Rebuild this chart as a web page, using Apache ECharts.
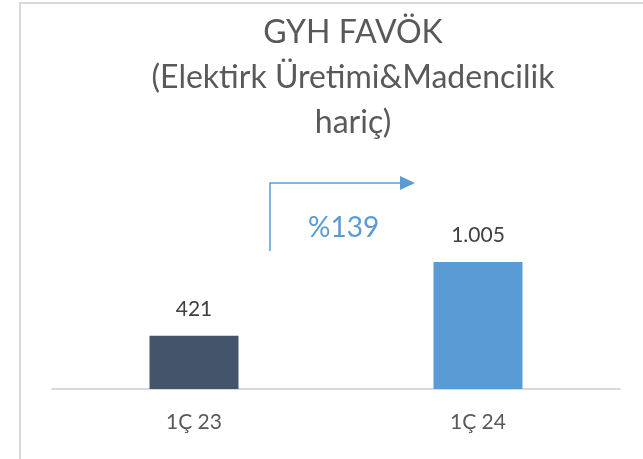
<!DOCTYPE html>
<html>
<head>
<meta charset="utf-8">
<script src="https://cdn.jsdelivr.net/npm/echarts@6/dist/echarts.min.js"></script>
<style>
  html, body { margin: 0; padding: 0; background: #fff; }
  #main { width: 643px; height: 459px; }
</style>
</head>
<body>
<div id="main"></div>
<script>
// kategoriler ve değerler
var categories = ['1Ç 23', '1Ç 24']
var values = [421, 1005]
var valueLabels = ['421', '1.005']
var barColors = ['#44546A', '#5B9BD5']
var growthText = '%139'

var myChart = echarts.init(document.getElementById('main'))
var font = 'Lato, "Open Sans", sans-serif'

myChart.setOption({
  animation: false,
  title: {
    text: 'GYH FAVÖK\n(Elektirk Üretimi&Madencilik\nhariç)',
    left: 348,
    top: 5,
    textAlign: 'center',
    textStyle: {
      fontFamily: font,
      fontSize: 32,
      fontWeight: 'normal',
      color: '#595959',
      lineHeight: 45
    }
  },
  grid: {
    left: 52,
    right: 23,
    top: 73,
    bottom: 70
  },
  xAxis: {
    type: 'category',
    data: categories,
    axisTick: { show: false },
    axisLine: { lineStyle: { color: '#D9D9D9', width: 2 } },
    axisLabel: {
      margin: 23,
      fontFamily: font,
      fontSize: 21,
      color: '#595959'
    }
  },
  yAxis: {
    type: 'value',
    min: 0,
    max: 2500,
    show: false,
    splitLine: { show: false }
  },
  series: [
    {
      type: 'bar',
      barWidth: 89,
      data: values.map(function (v, i) {
        return { value: v, itemStyle: { color: barColors[i] } }
      }),
      label: {
        show: true,
        position: 'top',
        distance: 16,
        fontFamily: font,
        fontSize: 21,
        color: '#404040',
        formatter: function (p) { return valueLabels[p.dataIndex] }
      }
    }
  ],
  graphic: [
    // çerçeve
    {
      type: 'rect',
      shape: { x: 20, y: 3, width: 640, height: 470 },
      style: { fill: 'none', stroke: '#D9D9D9', lineWidth: 2 }
    },
    // büyüme oku
    {
      type: 'polyline',
      shape: { points: [[270, 251], [270, 183], [402, 183]] },
      style: { fill: 'none', stroke: '#5B9BD5', lineWidth: 1.5 }
    },
    {
      type: 'polygon',
      shape: { points: [[400, 176], [415, 183], [400, 190]] },
      style: { fill: '#5B9BD5' }
    },
    {
      type: 'text',
      left: 308,
      top: 214,
      style: {
        text: growthText,
        font: '28px Lato, "Open Sans", sans-serif',
        fill: '#5B9BD5'
      }
    }
  ]
})
</script>
</body>
</html>
